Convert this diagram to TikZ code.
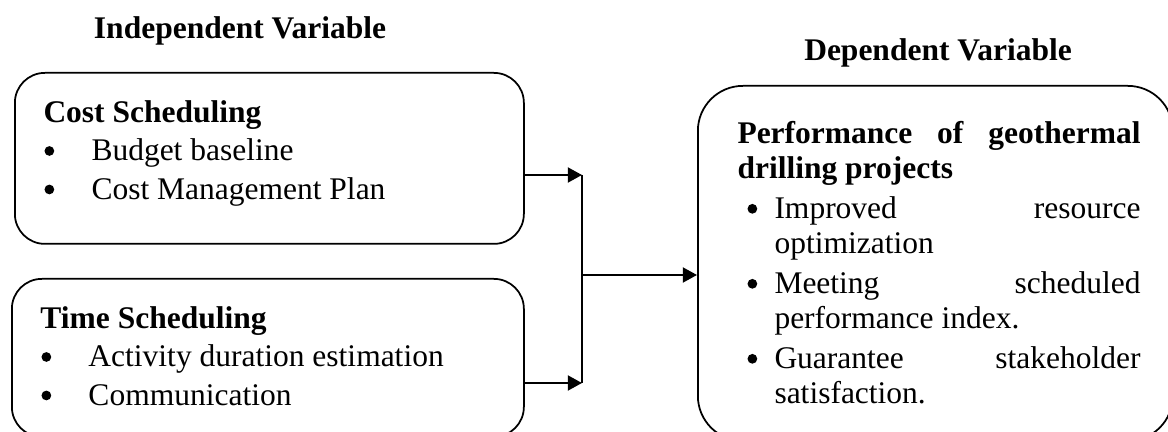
\documentclass[tikz,border=0pt]{standalone}
\usepackage{fontspec}
\setmainfont{Liberation Serif}
\usetikzlibrary{arrows.meta}
\newcommand{\bdot}{\raisebox{2pt}{\tikz\fill (0,0) circle (1.95pt);}}
\newcommand{\itembul}[1]{\makebox[19.2pt][l]{\hspace{0.4pt}\bdot}#1}
\newcommand{\itemhang}[1]{\hangindent=14.8pt\hangafter=1\makebox[14.8pt][l]{\hspace{4pt}\bdot}#1\par}

\begin{document}
\begin{tikzpicture}[x=0.4pt,y=-0.4pt,
		font=\fontsize{12.6}{15.4}\selectfont,
		box/.style={draw, line width=0.7pt, anchor=north west, inner sep=0pt},
		txt/.style={anchor=north west, inner sep=0pt, align=left},
		head/.style={anchor=base, font=\fontsize{12.6}{15.4}\selectfont\bfseries},
		arr/.style={line width=0.9pt, -{Triangle[length=5.7pt,width=6pt]}}]
			\useasboundingbox (0,0) rectangle (1168,432);
			% Tiêu đề
			\node[head] (indep) at (240,39) {Independent Variable};
			\node[head] (dep) at (938,61) {Dependent Variable};
			% Khung
			\node[box, rounded corners=12pt, minimum width=203.6pt, minimum height=68.4pt] (cost) at (14,72) {};
			\node[box, rounded corners=12pt, minimum width=204.8pt, minimum height=63.2pt] (time) at (11,278) {};
			\node[box, rounded corners=18pt, minimum width=190pt, minimum height=142pt] (perf) at (697,85) {};
			% Nội dung
			\node[txt] (costtxt) at (43,100) {\textbf{Cost Scheduling}\\ \itembul{Budget baseline}\\ \itembul{Cost Management Plan}};
			\node[txt] (timetxt) at (40,306) {\textbf{Time Scheduling}\\ \itembul{Activity duration estimation}\\ \itembul{Communication}};
			\node[anchor=north west, inner sep=0pt, text width=161.2pt, align=justify, font=\fontsize{12.6}{14}\selectfont] (perftxt) at (737,121)
			{\parskip=2pt\tolerance=10000\hyphenpenalty=10000
			\textbf{Performance of geothermal drilling projects}\par
			\itemhang{Improved resource optimization}
			\itemhang{Meeting scheduled performance index.}
			\itemhang{Guarantee stakeholder satisfaction.}};
			% Mũi tên
			\coordinate (jtop) at (582,175);
			\coordinate (jbot) at (582,383);
			\coordinate (jmid) at (582,275);
			\draw[arr] (cost.east |- jtop) -- (jtop);
			\draw[arr] (time.east |- jbot) -- (jbot);
			\draw[line width=0.9pt] (jtop) -- (jbot);
			\draw[arr] (jmid) -- (perf.west |- jmid);
		\end{tikzpicture}
\end{document}
